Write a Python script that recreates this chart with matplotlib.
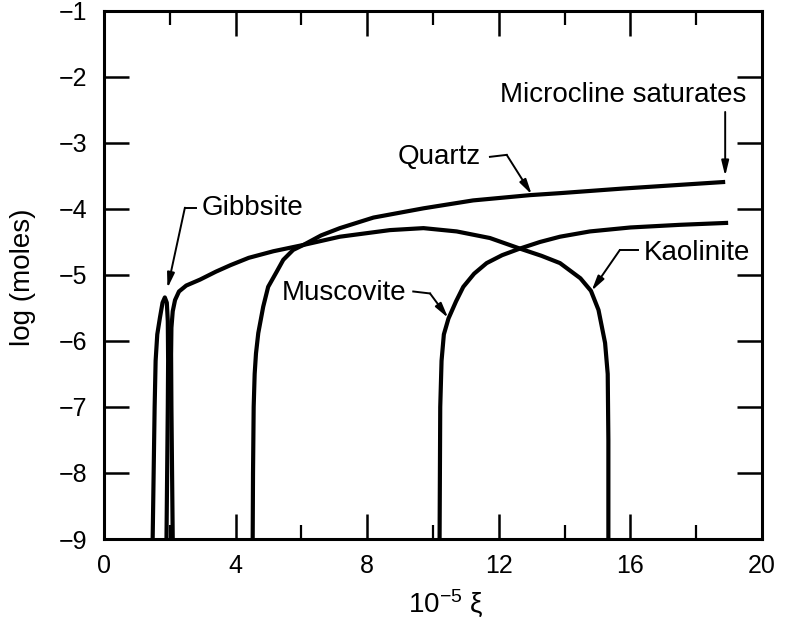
import matplotlib
matplotlib.use("Agg")
import matplotlib.pyplot as plt

plt.rcParams['font.family'] = ['Liberation Sans', 'DejaVu Sans']
plt.rcParams['mathtext.fontset'] = 'custom'
plt.rcParams['mathtext.rm'] = 'Liberation Sans'
plt.rcParams['mathtext.it'] = 'Liberation Sans'

# ---- data ----
gibbsite_x = [1.48, 1.51, 1.54, 1.57, 1.62, 1.70, 1.78, 1.85, 1.91, 1.94, 1.95, 1.94, 1.92, 1.90]
gibbsite_y = [-9.0, -8.0, -7.0, -6.3, -5.9, -5.65, -5.42, -5.34, -5.42, -5.7, -6.3, -7.0, -8.0, -9.0]

kaolinite_x = [2.09, 2.07, 2.05, 2.04, 2.05, 2.09, 2.16, 2.28, 2.5, 2.92, 3.4, 3.85, 4.4, 5.15, 6.06,
               7.17, 8.69, 9.71, 10.72, 11.73, 12.64, 13.3, 13.86, 14.48, 14.8, 15.03, 15.23,
               15.31, 15.33, 15.33]
kaolinite_y = [-9.0, -8.0, -7.0, -6.2, -5.8, -5.55, -5.38, -5.25, -5.16, -5.07, -4.95, -4.85, -4.74, -4.64,
               -4.545, -4.42, -4.32, -4.29, -4.34, -4.44, -4.6, -4.71, -4.82, -5.05, -5.24, -5.53,
               -6.03, -6.5, -7.5, -9.0]

quartz_x = [4.52, 4.53, 4.55, 4.58, 4.62, 4.69, 4.84, 4.99, 5.25, 5.45, 5.75, 6.06, 6.6, 7.17, 8.19,
            9.71, 11.22, 12.95, 13.86, 15.78, 18.88]
quartz_y = [-9.0, -8.0, -7.0, -6.5, -6.19, -5.88, -5.48, -5.18, -4.95, -4.77, -4.62, -4.545,
            -4.4, -4.29, -4.13, -3.99, -3.87, -3.79, -3.76, -3.69, -3.59]

muscovite_x = [10.20, 10.21, 10.22, 10.26, 10.33, 10.47, 10.7, 10.92, 11.25, 11.63, 12.1, 12.64,
               13.25, 13.86, 14.77, 16.0, 17.5, 18.97]
muscovite_y = [-9.0, -8.0, -7.0, -6.3, -5.9, -5.66, -5.4, -5.18, -4.98, -4.82, -4.7, -4.6,
               -4.5, -4.42, -4.34, -4.28, -4.24, -4.21]

x_major = [0, 4, 8, 12, 16, 20]
x_minor = [2, 6, 10, 14, 18]
y_ticks = [-9, -8, -7, -6, -5, -4, -3, -2, -1]

# ---- figure ----
fig = plt.figure(figsize=(7.9, 6.31), dpi=100)
ax = fig.add_axes([0.1316, 0.1458, 0.8330, 0.8368])

lw = 3.0
for xs, ys in [(gibbsite_x, gibbsite_y), (kaolinite_x, kaolinite_y),
               (quartz_x, quartz_y), (muscovite_x, muscovite_y)]:
    ax.plot(xs, ys, color='black', lw=lw, solid_joinstyle='round', solid_capstyle='butt')

ax.set_xlim(0, 20)
ax.set_ylim(-9, -1)
ax.set_xticks(x_major)
ax.set_xticks(x_minor, minor=True)
ax.set_yticks(y_ticks)
ax.set_xticklabels([str(v) for v in x_major])
ax.set_yticklabels(['\u2212%d' % abs(v) for v in y_ticks])

for s in ax.spines.values():
    s.set_linewidth(2.2)

ax.tick_params(axis='both', which='major', direction='in', length=18, width=1.8,
               top=True, right=True, labelsize=18, colors='black')
ax.tick_params(axis='x', which='minor', direction='in', length=10, width=1.6, top=True)
ax.tick_params(axis='x', which='major', pad=11)
ax.tick_params(axis='y', which='major', pad=12)

ax.set_xlabel('10$^{-5}$ \u03be', fontsize=20, va='center')
ax.xaxis.set_label_coords(0.52, -0.121)
ax.set_ylabel('log (moles)', fontsize=20, va='center')
ax.yaxis.set_label_coords(-0.123, 0.495)

# ---- annotations ----
fs = 20
alw = 1.4
arrow = dict(arrowstyle='-|>,head_length=0.9,head_width=0.22', color='black', lw=alw,
             shrinkA=0, shrinkB=0)

# Gibbsite
ax.text(2.98, -3.98, 'Gibbsite', fontsize=fs, ha='left', va='center')
ax.plot([2.8, 2.46], [-3.98, -3.98], color='black', lw=alw)
ax.annotate('', xy=(1.93, -5.2), xytext=(2.46, -3.98), arrowprops=arrow)

# Quartz
ax.text(8.94, -3.21, 'Quartz', fontsize=fs, ha='left', va='center')
ax.plot([11.73, 12.24], [-3.21, -3.18], color='black', lw=alw)
ax.annotate('', xy=(13.0, -3.78), xytext=(12.24, -3.18), arrowprops=arrow)

# Microcline saturates
ax.text(12.04, -2.27, 'Microcline saturates', fontsize=fs, ha='left', va='center')
ax.annotate('', xy=(18.88, -3.5), xytext=(18.88, -2.53), arrowprops=arrow)

# Kaolinite
ax.text(16.39, -4.67, 'Kaolinite', fontsize=fs, ha='left', va='center')
ax.plot([16.24, 15.68], [-4.62, -4.62], color='black', lw=alw)
ax.annotate('', xy=(14.82, -5.24), xytext=(15.68, -4.62), arrowprops=arrow)

# Muscovite
ax.text(5.40, -5.28, 'Muscovite', fontsize=fs, ha='left', va='center')
ax.plot([9.40, 9.91], [-5.25, -5.28], color='black', lw=alw)
ax.annotate('', xy=(10.46, -5.65), xytext=(9.91, -5.28), arrowprops=arrow)

fig.savefig('out.png', dpi=100)
